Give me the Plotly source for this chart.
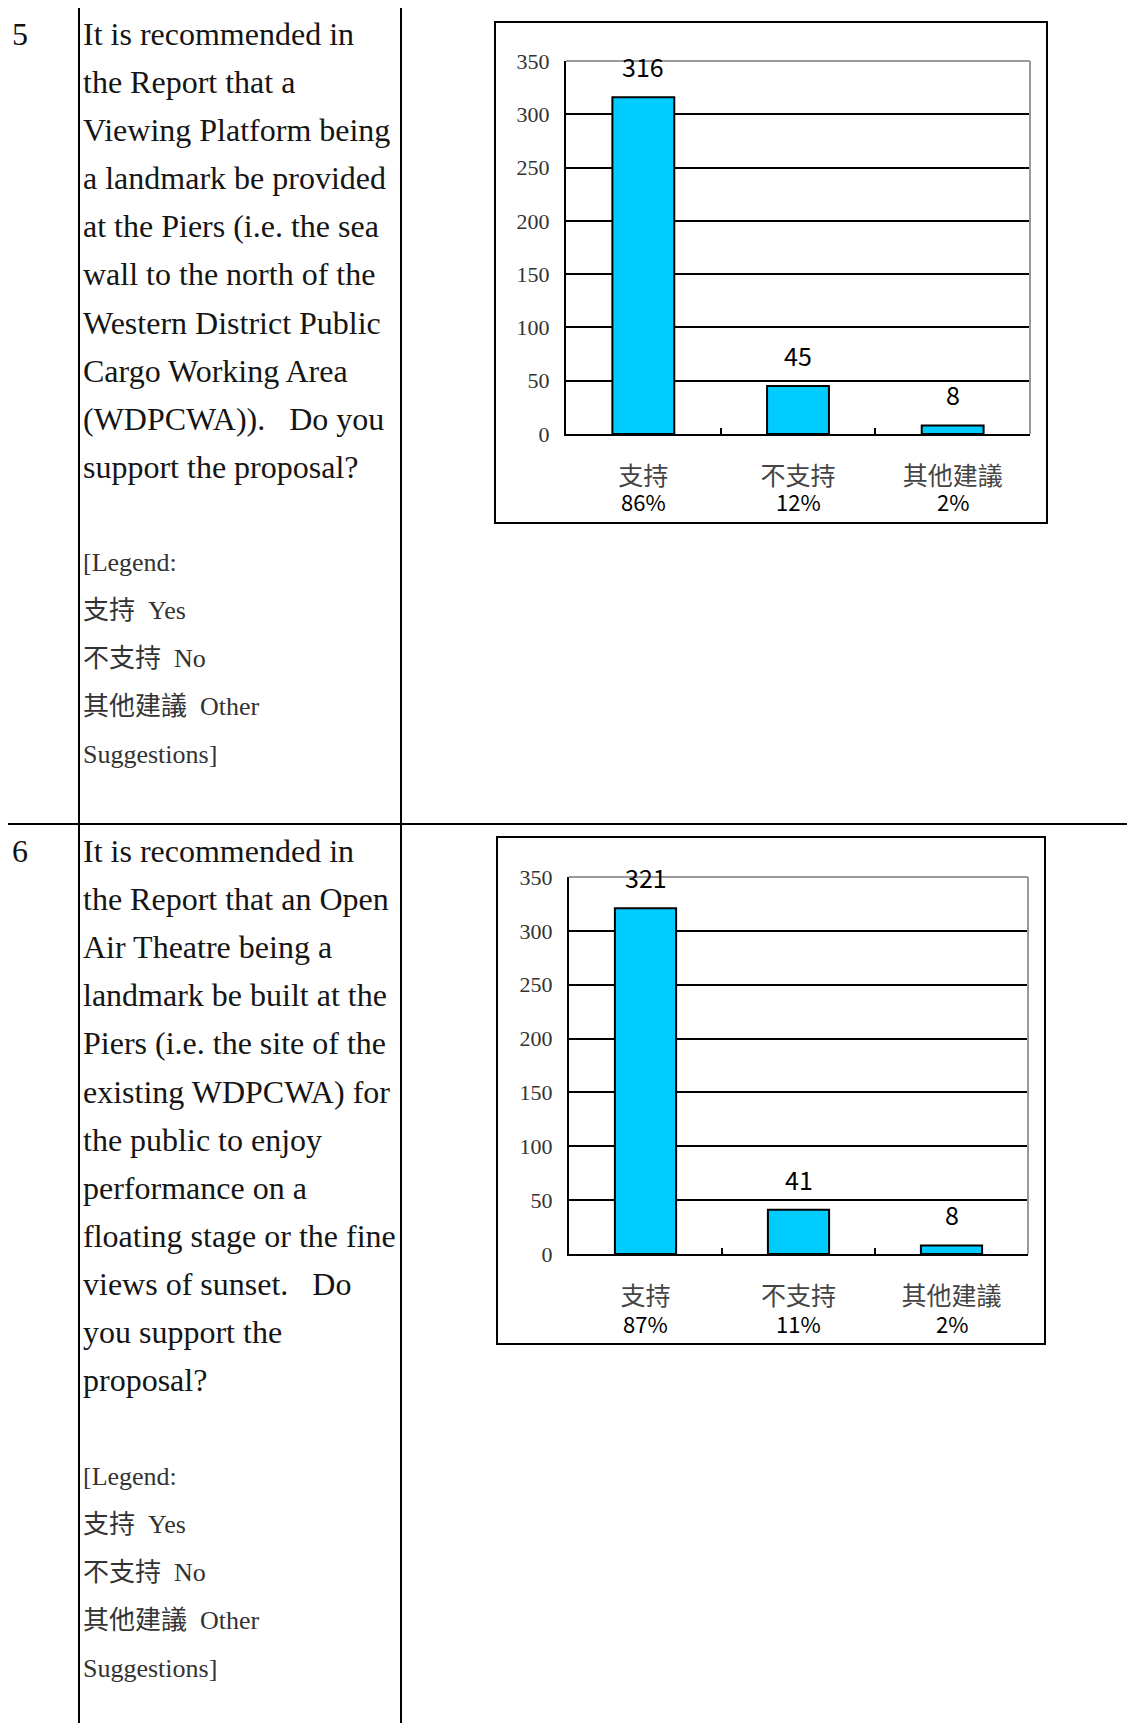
import plotly.graph_objects as go

# ---------------- data ----------------
categories = ["支持", "不支持", "其他建議"]
q5_counts = [316, 45, 8]
q5_pcts = ["86%", "12%", "2%"]
q6_counts = [321, 41, 8]
q6_pcts = ["87%", "11%", "2%"]
y_tick_vals = [0, 50, 100, 150, 200, 250, 300, 350]

q5_number = "5"
q5_text_lines = [
    "It is recommended in",
    "the Report that a",
    "Viewing Platform being",
    "a landmark be provided",
    "at the Piers (i.e. the sea",
    "wall to the north of the",
    "Western District Public",
    "Cargo Working Area",
    "(WDPCWA)).\u00a0\u00a0\u00a0Do you",
    "support the proposal?",
]
q6_number = "6"
q6_text_lines = [
    "It is recommended in",
    "the Report that an Open",
    "Air Theatre being a",
    "landmark be built at the",
    "Piers (i.e. the site of the",
    "existing WDPCWA) for",
    "the public to enjoy",
    "performance on a",
    "floating stage or the fine",
    "views of sunset.\u00a0\u00a0\u00a0Do",
    "you support the",
    "proposal?",
]
legend_lines = ["[Legend:", "支持\u00a0\u00a0Yes", "不支持\u00a0\u00a0No",
                "其他建議\u00a0\u00a0Other", "Suggestions]"]

# ---------------- page geometry ----------------
OFF = 8
W = 1135 - 2 * OFF
H = 1731 - 2 * OFF


def px(x):
    return (x - OFF) / W


def py(y):
    return 1 - (y - OFF) / H


SERIF = "Liberation Serif, Noto Sans CJK TC, serif"
CJK = "Noto Sans CJK TC, sans-serif"
BAR_COLOR = "#00CCFF"

fig = go.Figure()

charts = [
    dict(xa="x", ya="y", counts=q5_counts, pcts=q5_pcts, pct_shift=-67,
         plot=(566, 1030, 61, 434), box=(495, 22, 1047, 523)),
    dict(xa="x2", ya="y2", counts=q6_counts, pcts=q6_pcts, pct_shift=-69,
         plot=(569, 1028, 877, 1254), box=(497, 837, 1045, 1344)),
]

annotations = []
shapes = []

for i, ch in enumerate(charts):
    fig.add_trace(go.Bar(
        x=categories, y=ch["counts"], xaxis=ch["xa"], yaxis=ch["ya"],
        width=0.4, marker=dict(color=BAR_COLOR, line=dict(color="black", width=2)),
        showlegend=False, hoverinfo="skip",
    ))
    x0, x1, ytop, ybot = ch["plot"]
    suffix = "" if i == 0 else str(i + 1)
    fig.update_layout(**{
        "xaxis" + suffix: dict(
            type="category", range=[-0.5, 2.5], domain=[px(x0), px(x1)],
            anchor=ch["ya"], showline=True, linecolor="black", linewidth=2,
            ticks="inside", ticklen=6, tickwidth=2, tickcolor="black",
            tickson="boundaries", showgrid=False, fixedrange=True,
            tickfont=dict(family=CJK, size=25, color="#444444"),
            ticklabelstandoff=19,
        ),
        "yaxis" + suffix: dict(
            range=[0, 350], domain=[py(ybot), py(ytop)], anchor=ch["xa"],
            tickvals=y_tick_vals, showgrid=True, gridcolor="black", gridwidth=1.5,
            showline=True, linecolor="black", linewidth=2, zeroline=False,
            ticks="inside", ticklen=5, tickwidth=1.5, tickcolor="black",
            tickfont=dict(family=SERIF, size=22, color="#333333"),
            ticklabelstandoff=10, fixedrange=True,
        ),
    })
    # gray top/right frame of plot area
    shapes.append(dict(type="line", xref=ch["xa"] + " domain", yref=ch["ya"] + " domain",
                       x0=0, x1=1, y0=1, y1=1, line=dict(color="#9a9a9a", width=2)))
    shapes.append(dict(type="line", xref=ch["xa"] + " domain", yref=ch["ya"] + " domain",
                       x0=1, x1=1, y0=0, y1=1, line=dict(color="#9a9a9a", width=2)))
    # outer chart box
    bx0, by0, bx1, by1 = ch["box"]
    shapes.append(dict(type="rect", xref="paper", yref="paper",
                       x0=px(bx0), x1=px(bx1), y0=py(by1), y1=py(by0),
                       line=dict(color="black", width=2)))
    # value labels and percentage labels
    for c, v, p in zip(categories, ch["counts"], ch["pcts"]):
        annotations.append(dict(x=c, y=v, xref=ch["xa"], yref=ch["ya"], text=str(v),
                                showarrow=False, yanchor="middle", yshift=31,
                                font=dict(family=CJK, size=25, color="black")))
        annotations.append(dict(x=c, y=0, xref=ch["xa"], yref=ch["ya"], text=p,
                                showarrow=False, yanchor="middle", yshift=ch["pct_shift"],
                                font=dict(family=CJK, size=22, color="black")))

# ---------------- table lines ----------------
LINE = dict(color="black", width=2)
for yy in (7, 824):
    shapes.append(dict(type="line", xref="paper", yref="paper",
                       x0=px(7), x1=px(1140), y0=py(yy), y1=py(yy), line=LINE))
for xx in (7, 79, 401):
    shapes.append(dict(type="line", xref="paper", yref="paper",
                       x0=px(xx), x1=px(xx), y0=py(7), y1=py(1740), line=LINE))

# ---------------- table text ----------------
def add_text(text, x, y, size, color):
    annotations.append(dict(x=px(x), y=py(y), xref="paper", yref="paper", text=text,
                            showarrow=False, xanchor="left", yanchor="middle",
                            font=dict(family=SERIF, size=size, color=color)))


STEP = 48.1
add_text(q5_number, 10, 34, 32, "#111111")
for k, line in enumerate(q5_text_lines):
    add_text(line, 81, 34 + k * STEP, 32, "#151515")
for k, line in enumerate(legend_lines):
    add_text(line, 81, 562 + k * STEP, 26, "#333333")

add_text(q6_number, 10, 851, 32, "#111111")
for k, line in enumerate(q6_text_lines):
    add_text(line, 81, 851 + k * STEP, 32, "#151515")
for k, line in enumerate(legend_lines):
    add_text(line, 81, 1476 + k * STEP, 26, "#333333")

fig.update_layout(
    template="none",
    width=W, height=H, autosize=False,
    margin=dict(l=0, r=0, t=0, b=0, pad=0),
    paper_bgcolor="white", plot_bgcolor="white",
    bargap=0.6,
    annotations=annotations, shapes=shapes,
    font=dict(family=SERIF, color="black"),
)

fig.write_html("out.html")
